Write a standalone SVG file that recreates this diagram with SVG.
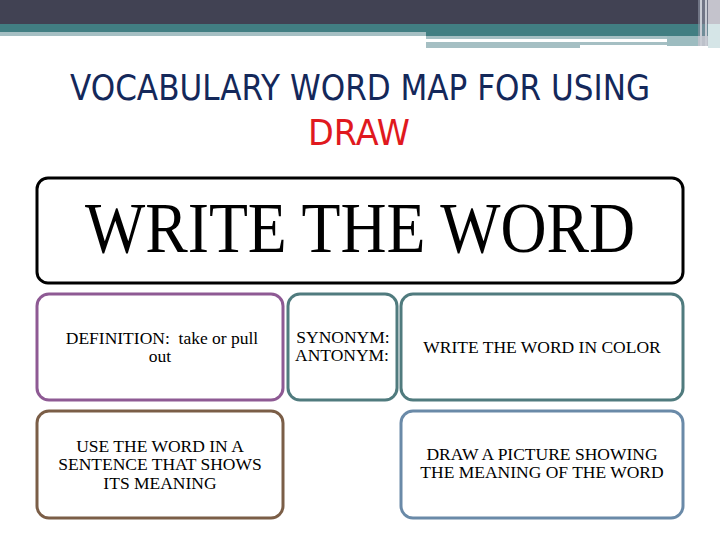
<svg xmlns="http://www.w3.org/2000/svg" width="720" height="540" viewBox="0 0 720 540">
<style>
.box{fill:#fff;stroke-width:3}
.t{font-family:"Liberation Serif","Times New Roman",serif;font-size:17.5px;fill:#000;text-anchor:middle}
.title{font-family:"DejaVu Sans","Liberation Sans",sans-serif;text-anchor:middle}
</style>
<rect width="720" height="540" fill="#fff"/>
<g id="topbar">
<rect x="0" y="0" width="720" height="24" fill="#414253"/>
<rect x="0" y="24" width="720" height="8" fill="#417e82"/>
<rect x="0" y="32" width="426" height="4" fill="#a5bfc3"/>
<rect x="426" y="32" width="294" height="4" fill="#417e82"/>
<rect x="426" y="36" width="241" height="3" fill="#a5bfc3"/>
<rect x="426" y="42" width="154" height="6" fill="#a5bfc3"/>
<rect x="580" y="42" width="87" height="3" fill="#a5bfc3"/>
<rect x="667" y="36" width="31" height="10" fill="#9dbcc0"/>
<rect x="698" y="0" width="10" height="46" fill="#8f98a6" opacity="0.6"/>
<rect x="700" y="0" width="2" height="46" fill="#c8ccd4"/>
<rect x="705" y="0" width="2" height="46" fill="#c8ccd4"/>
<rect x="708" y="0" width="12" height="24" fill="#c4c3cc"/>
<rect x="708" y="24" width="12" height="24" fill="#d5e5e7"/>
</g>
<g id="title">
<text class="title" x="360" y="100" font-size="36" fill="#14285a" textLength="580" lengthAdjust="spacingAndGlyphs">VOCABULARY WORD MAP FOR USING</text>
<text class="title" x="359" y="145" font-size="36" fill="#e0191e" textLength="102" lengthAdjust="spacingAndGlyphs">DRAW</text>
</g>
<g id="word">
<rect class="box" x="37" y="178" width="646" height="105" rx="11" stroke="#000"/>
<text x="360" y="252" font-family="Liberation Serif,Times New Roman,serif" font-size="72" text-anchor="middle" textLength="550" lengthAdjust="spacingAndGlyphs">WRITE THE WORD</text>
</g>
<g id="definition">
<rect class="box" x="37" y="294" width="246" height="106" rx="12" stroke="#8e5a94"/>
<text class="t" x="162" y="344">DEFINITION:&#160; take or pull</text>
<text class="t" x="160" y="362">out</text>
</g>
<g id="synonym">
<rect class="box" x="288" y="294" width="109" height="106" rx="12" stroke="#507b7e"/>
<text class="t" x="343" y="343">SYNONYM:</text>
<text class="t" x="342" y="361">ANTONYM:</text>
</g>
<g id="color">
<rect class="box" x="401" y="294" width="282" height="106" rx="12" stroke="#507b7e"/>
<text class="t" x="542" y="353">WRITE THE WORD IN COLOR</text>
</g>
<g id="sentence">
<rect class="box" x="37" y="411" width="246" height="107" rx="12" stroke="#7b5e47"/>
<text class="t" x="160" y="452">USE THE WORD IN A</text>
<text class="t" x="160" y="470">SENTENCE THAT SHOWS</text>
<text class="t" x="160" y="489">ITS MEANING</text>
</g>
<g id="picture">
<rect class="box" x="401" y="411" width="282" height="107" rx="12" stroke="#6a8aa8"/>
<text class="t" x="542" y="460">DRAW A PICTURE SHOWING</text>
<text class="t" x="542" y="478">THE MEANING OF THE WORD</text>
</g>
</svg>
